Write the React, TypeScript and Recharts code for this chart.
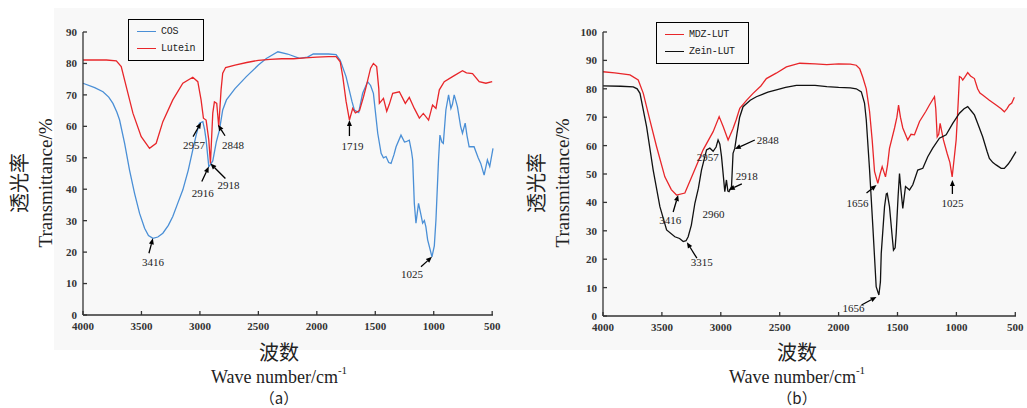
import React from 'react'
import { LineChart, Line, XAxis, YAxis, Legend, ReferenceDot } from 'recharts'

type Pt = [number, number]

const xTicks = [4000, 3500, 3000, 2500, 2000, 1500, 1000, 500]
const yTicksA = [0, 10, 20, 30, 40, 50, 60, 70, 80, 90]
const yTicksB = [0, 10, 20, 30, 40, 50, 60, 70, 80, 90, 100]

// panel (a): wavenumber, transmittance
const cosPts: Pt[] = [
  [4000, 73.7], [3900, 72.3], [3829, 71], [3780, 69.3], [3744, 67.3], [3710, 64.5], [3687, 62],
  [3644, 54.6], [3602, 46.1], [3559, 38.7], [3516, 32.3], [3473, 27.6], [3440, 25.3], [3402, 24.4],
  [3360, 24.8], [3317, 26], [3270, 28.5], [3232, 31.3], [3190, 35.5], [3146, 39.8], [3100, 46],
  [3061, 52.5], [3030, 57.5], [3004, 61], [2975, 61.5], [2960, 59], [2947, 55.7], [2924, 47.2],
  [2910, 47.8], [2890, 49], [2860, 55], [2833, 58.8], [2805, 65.2], [2773, 68.4], [2700, 72],
  [2603, 75.8], [2500, 79.5], [2432, 81.6], [2333, 83.7], [2250, 83], [2148, 81.6], [2080, 82],
  [2030, 83], [1900, 83], [1835, 82.8], [1800, 81], [1750, 75.8], [1700, 68], [1679, 65.2],
  [1642, 64.4], [1608, 70.5], [1565, 74.2], [1540, 73], [1516, 70.5], [1479, 57.8], [1450, 51.4],
  [1430, 50], [1408, 50.4], [1385, 48.5], [1365, 48.2], [1340, 51], [1322, 53.5], [1280, 57.2],
  [1250, 55], [1237, 55.1], [1209, 55.6], [1190, 52], [1180, 49.3], [1166, 35.5], [1152, 29.2],
  [1130, 35.5], [1110, 32], [1095, 29.2], [1080, 30], [1067, 28], [1052, 23.9], [1015, 18.5],
  [995, 22], [981, 30.2], [959, 49.3], [947, 57.2], [930, 55], [918, 54.6], [896, 65.2], [873, 70],
  [853, 65.7], [840, 67], [825, 70], [810, 68], [797, 66.2], [770, 60], [754, 57.8], [731, 61],
  [715, 57], [697, 53.5], [655, 53.5], [620, 50], [598, 48.2], [569, 44.5], [541, 49.3], [521, 47.2],
  [493, 53],
]

const luteinPts: Pt[] = [
  [4000, 81.1], [3800, 81.1], [3715, 80.8], [3673, 79], [3630, 72.6], [3573, 64.2], [3502, 56.7],
  [3431, 53], [3374, 54.6], [3317, 61.5], [3232, 68.4], [3146, 73.7], [3061, 75.6], [3018, 74.2],
  [2990, 68.4], [2970, 62.6], [2947, 62], [2924, 55.7], [2910, 48.2], [2890, 64.2], [2876, 67.8],
  [2856, 67.3], [2839, 59.9], [2819, 71.6], [2805, 76.9], [2780, 78.7], [2700, 79.5], [2600, 80.3],
  [2500, 81], [2400, 81.3], [2300, 81.5], [2200, 81.5], [2100, 81.8], [2000, 82], [1900, 82.2],
  [1835, 82.2], [1800, 80.5], [1778, 75.8], [1750, 68], [1721, 62], [1693, 65.7], [1670, 64.3],
  [1635, 65], [1600, 69.5], [1578, 72.6], [1540, 78.5], [1516, 80], [1488, 79], [1470, 72],
  [1465, 67.3], [1430, 68.9], [1402, 64.8], [1380, 67], [1351, 70.5], [1294, 71], [1243, 67.3],
  [1209, 69.2], [1166, 65.7], [1123, 62.6], [1089, 64.1], [1044, 62], [1010, 66.8], [981, 65.7],
  [952, 71.6], [910, 74.2], [839, 75.8], [754, 77.7], [720, 77], [668, 76.8], [611, 74.2],
  [554, 73.7], [500, 74.2],
]

// panel (b)
const mdzPts: Pt[] = [
  [4000, 86], [3900, 85.6], [3771, 84.9], [3701, 83.1], [3658, 78.4], [3602, 69], [3545, 59.6],
  [3475, 49], [3420, 44.5], [3376, 42.6], [3305, 43.3], [3235, 50.2], [3150, 58.5], [3065, 64.9],
  [3014, 70.2], [2980, 66.7], [2938, 62], [2896, 66], [2870, 69], [2839, 73.1], [2780, 76],
  [2726, 78.4], [2660, 81], [2613, 83.6], [2530, 85.5], [2443, 87.7], [2330, 89], [2200, 88.8],
  [2100, 88.5], [2000, 88.8], [1900, 88.7], [1850, 88.3], [1820, 87], [1794, 84], [1765, 80],
  [1737, 72], [1715, 62], [1695, 50.9], [1667, 46.7], [1648, 50], [1630, 52.6], [1602, 49],
  [1585, 53], [1568, 59], [1525, 66.2], [1505, 70], [1491, 74.3], [1475, 70], [1455, 66.2],
  [1413, 62], [1385, 64], [1356, 63.8], [1313, 68.5], [1260, 72], [1229, 74.3], [1186, 77.2],
  [1175, 73], [1163, 63.1], [1150, 64], [1138, 67.8], [1110, 62], [1079, 57.3], [1055, 54],
  [1036, 49], [1020, 55], [1002, 62], [985, 75], [974, 84.3], [960, 84], [946, 83.1], [930, 84],
  [904, 85.7], [880, 84.5], [847, 83.6], [820, 80], [800, 78.5], [777, 77.8], [720, 76], [663, 74.3],
  [620, 73], [593, 71.9], [570, 73], [551, 74.3], [530, 75], [508, 77],
]

const zeinPts: Pt[] = [
  [4000, 81], [3850, 80.9], [3743, 80.7], [3710, 80], [3686, 78.4], [3630, 66.7], [3574, 51.4],
  [3517, 38.5], [3460, 30.3], [3390, 27.9], [3350, 27.3], [3319, 26.2], [3295, 26.5], [3277, 27.9],
  [3250, 32], [3220, 39.7], [3190, 45], [3164, 51.4], [3121, 58.5], [3093, 59.1], [3065, 58],
  [3040, 59.5], [3023, 62], [3008, 60.5], [2994, 56.2], [2966, 43.8], [2952, 47.9], [2940, 44],
  [2930, 43.8], [2909, 45.6], [2896, 57.3], [2881, 59.1], [2862, 64.4], [2840, 70], [2811, 73.7],
  [2750, 76], [2698, 77.2], [2600, 78.8], [2528, 79.6], [2450, 80.5], [2358, 81.2], [2200, 81.2],
  [2100, 80.8], [2000, 80.5], [1900, 80.3], [1850, 80], [1807, 78.9], [1780, 75], [1765, 69],
  [1737, 51.4], [1709, 31.3], [1681, 10.3], [1658, 7.4], [1645, 12], [1638, 22], [1610, 38.5],
  [1595, 43], [1587, 43.2], [1568, 38.5], [1545, 28], [1534, 23.2], [1520, 24], [1511, 29.1],
  [1495, 42], [1483, 50.2], [1470, 44], [1455, 37.9], [1432, 45.6], [1398, 44.4], [1370, 46.2],
  [1328, 51.4], [1285, 52], [1243, 56.1], [1201, 59.1], [1144, 62.6], [1087, 63.8], [1031, 67.8],
  [974, 71.4], [935, 73], [904, 73.7], [870, 72], [847, 70.8], [819, 67.8], [777, 63.1], [740, 58],
  [720, 55.5], [690, 54], [663, 53.2], [620, 52], [593, 52], [560, 53.5], [536, 55], [494, 57.9],
]

// peak labels: text, wavenumber, transmittance at arrow tip
const peaksA = [
  { text: '3416', w: 3402, t: 24.4 },
  { text: '2916', w: 2924, t: 47.2 },
  { text: '2918', w: 2910, t: 48.2 },
  { text: '2957', w: 2990, t: 61.2 },
  { text: '2848', w: 2845, t: 60.5 },
  { text: '1719', w: 1721, t: 62 },
  { text: '1025', w: 1015, t: 18.5 },
]
const peaksB = [
  { text: '3416', w: 3362, t: 42.6 },
  { text: '3315', w: 3288, t: 26 },
  { text: '2960', w: 2960, t: 36 },
  { text: '2957', w: 2957, t: 56 },
  { text: '2848', w: 2881, t: 58.8 },
  { text: '2918', w: 2932, t: 44.4 },
  { text: '1656', w: 1678, t: 46.1 },
  { text: '1656', w: 1678, t: 6.7 },
  { text: '1025', w: 1034, t: 47.9 },
]

// pixel offsets: arrow tail [dx, dy] (null = no arrow), label centre [dx, dy]
const offsA: [number[] | null, number[]][] = [
  [[-4, 15], [0, 24]],
  [[-7, 15], [-6, 26]],
  [[15, 15], [18, 22]],
  [[-8, 14], [-7, 22]],
  [[7, 11], [15, 20]],
  [[0, 16], [3, 26]],
  [[-11, 10], [-20, 17]],
]
const offsB: [number[] | null, number[]][] = [
  [[-5, 17], [-8, 25]],
  [[10, 16], [15, 20]],
  [null, [-12, 0]],
  [null, [-18, 0]],
  [[20, -9], [33, -9]],
  [[13, -6], [18, -14]],
  [[-10, 8], [-19, 18]],
  [[-15, 8], [-23, 11]],
  [[0, 14], [0, 23]],
]

const rows = (pts: Pt[]) => pts.map(([w, t]) => ({ w, t }))

const BG = '#f8f8f8'
const tickStyle = { fontSize: 11, fill: '#333', fontFamily: 'Liberation Serif', fontWeight: 700 }

function PeakMark({ cx, cy, text, tail, label }: any) {
  let arrow = null
  if (tail) {
    const tx = cx + tail[0]
    const ty = cy + tail[1]
    const len = Math.hypot(tail[0], tail[1])
    const ux = -tail[0] / len
    const uy = -tail[1] / len
    const bx = cx - ux * 6
    const by = cy - uy * 6
    arrow = (
      <g>
        <line x1={tx} y1={ty} x2={bx} y2={by} stroke="#000" strokeWidth={1.3} />
        <polygon
          points={`${cx},${cy} ${bx - uy * 2.5},${by + ux * 2.5} ${bx + uy * 2.5},${by - ux * 2.5}`}
          fill="#000"
        />
      </g>
    )
  }
  return (
    <g>
      {arrow}
      <text
        x={cx + label[0]}
        y={cy + label[1]}
        textAnchor="middle"
        dominantBaseline="central"
        fontSize={11}
        fontFamily="Liberation Serif"
        fill="#222"
      >
        {text}
      </text>
    </g>
  )
}

function LegendBox({ payload, width }: any) {
  return (
    <div
      style={{
        border: '1px solid #000',
        width,
        padding: '3px 0 3px 8px',
        background: BG,
        fontFamily: 'Liberation Mono',
        fontSize: 10,
        letterSpacing: -0.3,
        color: '#222',
      }}
    >
      {(payload || []).map((p: any) => (
        <div key={p.value} style={{ display: 'flex', alignItems: 'center', height: 17 }}>
          <span style={{ width: 19, borderTop: `1.5px solid ${p.color}`, marginRight: 5 }} />
          {p.value}
        </div>
      ))}
    </div>
  )
}

function Panel({ series, yMax, yTicks, peaks, offs, legendPos, legendWidth, width, height, margin }: any) {
  return (
    <LineChart width={width} height={height} margin={margin}>
      <XAxis
        type="number"
        dataKey="w"
        domain={[500, 4000]}
        reversed
        ticks={xTicks}
        tick={tickStyle}
        tickSize={-4}
        tickMargin={11}
        height={30}
        stroke="#333"
        strokeWidth={1.3}
      />
      <YAxis
        type="number"
        dataKey="t"
        domain={[0, yMax]}
        ticks={yTicks}
        tick={tickStyle}
        tickSize={-4}
        tickMargin={10}
        width={30}
        stroke="#333"
        strokeWidth={1.3}
      />
      <Legend
        verticalAlign="middle"
        align="center"
        layout="vertical"
        wrapperStyle={{ left: legendPos[0], top: legendPos[1], width: 'auto' }}
        content={(props: any) => <LegendBox {...props} width={legendWidth} />}
      />
      {series.map((s: any) => (
        <Line
          key={s.name}
          data={rows(s.pts)}
          dataKey="t"
          name={s.name}
          type="linear"
          stroke={s.color}
          strokeWidth={1.3}
          dot={false}
          isAnimationActive={false}
        />
      ))}
      {peaks.map((p: any, i: number) => (
        <ReferenceDot
          key={i}
          x={p.w}
          y={p.t}
          r={3}
          ifOverflow="visible"
          shape={(sp: any) => (
            <PeakMark cx={sp.cx} cy={sp.cy} text={p.text} tail={offs[i][0]} label={offs[i][1]} />
          )}
        />
      ))}
    </LineChart>
  )
}

function Titles({ cx, yCx, yEn, tag }: any) {
  const serif = 'Liberation Serif'
  return (
    <g>
      <text
        transform={`translate(${yCx},183) rotate(-90)`}
        textAnchor="middle"
        dominantBaseline="central"
        fontSize={20}
        fontFamily="Noto Sans CJK SC"
        fill="#222"
      >
        透光率
      </text>
      <text
        transform={`translate(${yEn},183) rotate(-90)`}
        textAnchor="middle"
        dominantBaseline="central"
        fontSize={19}
        fontFamily={serif}
        fill="#222"
      >
        Transmittance/%
      </text>
      <text x={cx} y={351} textAnchor="middle" dominantBaseline="central" fontSize={20} fontFamily="Noto Sans CJK SC" fill="#222">
        波数
      </text>
      <text x={cx} y={377} textAnchor="middle" dominantBaseline="central" fontSize={18} fontFamily={serif} fill="#222">
        Wave  number/cm
        <tspan fontSize={11} dy={-7}>-1</tspan>
      </text>
      <text x={cx} y={397} textAnchor="middle" dominantBaseline="central" fontSize={15} fontFamily="Noto Sans CJK SC" fill="#222">
        （{tag}）
      </text>
    </g>
  )
}

export default function App() {
  return (
    <div style={{ position: 'absolute', left: 0, top: 0, width: 1027, height: 408, background: '#fff', overflow: 'hidden' }}>
      <div style={{ position: 'absolute', left: 54, top: 8, width: 973, height: 342, background: BG }} />
      <div style={{ position: 'absolute', left: 0, top: 0 }}>
        <Panel
          series={[
            { name: 'COS', pts: cosPts, color: '#4a8fd6' },
            { name: 'Lutein', pts: luteinPts, color: '#e8262a' },
          ]}
          yMax={90}
          yTicks={yTicksA}
          peaks={peaksA}
          offs={offsA}
          legendPos={[128, 19]}
          legendWidth={66}
          width={520}
          height={345}
          margin={{ top: 32, right: 27, left: 53, bottom: 0 }}
        />
      </div>
      <div style={{ position: 'absolute', left: 520, top: 0 }}>
        <Panel
          series={[
            { name: 'MDZ-LUT', pts: mdzPts, color: '#e8262a' },
            { name: 'Zein-LUT', pts: zeinPts, color: '#111' },
          ]}
          yMax={100}
          yTicks={yTicksB}
          peaks={peaksB}
          offs={offsB}
          legendPos={[136, 22]}
          legendWidth={83}
          width={507}
          height={346}
          margin={{ top: 32, right: 11, left: 53, bottom: 0 }}
        />
      </div>
      <svg width={1027} height={408} style={{ position: 'absolute', left: 0, top: 0, pointerEvents: 'none' }}>
        <Titles cx={279} yCx={18} yEn={45} tag="a" />
        <Titles cx={797} yCx={535} yEn={562} tag="b" />
      </svg>
    </div>
  )
}
